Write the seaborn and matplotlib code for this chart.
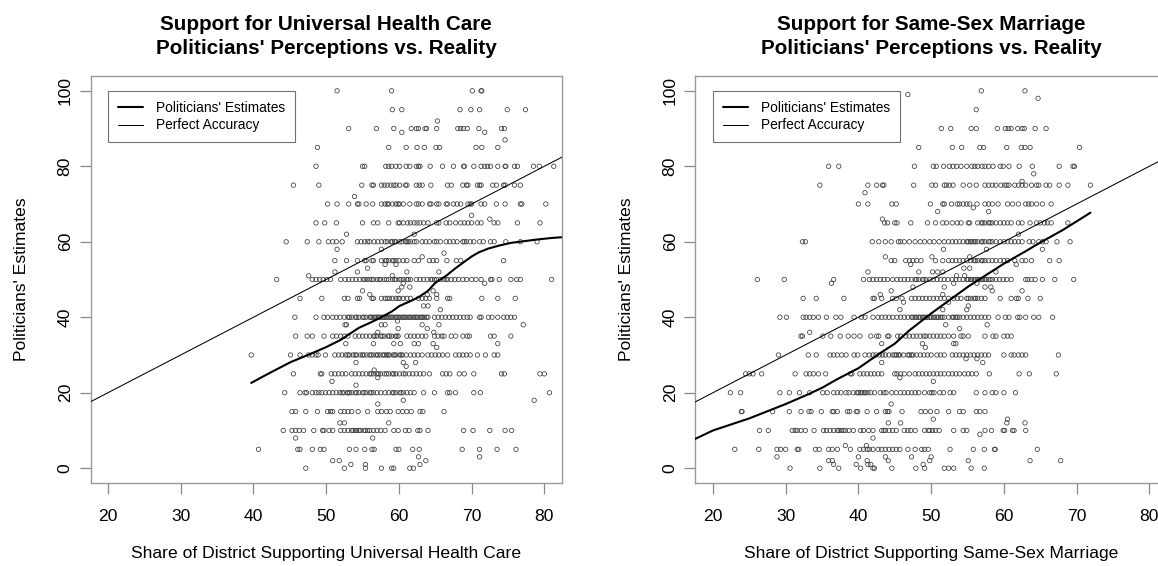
import matplotlib
matplotlib.use("Agg")
import matplotlib.pyplot as plt
import pandas as pd
import seaborn as sns
from matplotlib.lines import Line2D

# ---------------- data ----------------
TITLES = ["Support for Universal Health Care", "Support for Same-Sex Marriage"]
SUBTITLE = "Politicians' Perceptions vs. Reality"
XLABELS = ["Share of District Supporting Universal Health Care",
           "Share of District Supporting Same-Sex Marriage"]
YLABEL = "Politicians' Estimates"
LEGEND_LABELS = ["Politicians' Estimates", "Perfect Accuracy"]
XTICKS = [20, 30, 40, 50, 60, 70, 80]
YTICKS = [0, 20, 40, 60, 80, 100]
XLIM = (17.6, 82.4)
YLIM = (-4, 104)
IDENTITY = [0, 100]

# Universal health care: politicians' estimate levels and district support at each level
HC_LEVELS = [100, 95, 92, 90, 89, 87, 85, 80, 75, 72, 70, 67, 66, 65, 62, 60, 58, 57, 56, 55,
             54, 53, 52, 51, 50, 49, 48, 47, 46, 45, 43, 42, 40, 39, 38, 37, 36, 35, 33, 32,
             30, 28, 27, 26, 25, 24, 23, 22, 20, 18, 17, 15, 12, 10, 8, 5, 3, 2, 1, 0]
HC_X = [
    [51.5, 59.0, 70.1, 71.3, 71.4],
    [59.1, 60.4, 68.4, 69.9, 71.1, 74.9, 77.4],
    [65.3],
    [53.1, 56.9, 59.3, 61.7, 62.4, 62.7, 63.6, 63.8, 65.2, 68.1, 68.5, 68.9, 69.4, 71.0, 74.1, 74.5],
    [60.4, 71.8],
    [74.6],
    [48.8, 58.6, 61.0, 62.5, 63.5, 65.1, 65.6, 70.6, 71.4, 73.6],
    [48.6, 55.0, 55.3, 58.2, 58.6, 59.0, 59.6, 60.1, 61.0, 61.5, 62.4, 62.7, 62.9, 64.3, 66.0,
     67.5, 68.9, 69.0, 70.3, 71.3, 71.8, 72.2, 72.6, 73.6, 74.6, 74.7, 75.9, 76.3, 78.5, 79.3, 81.3],
    [45.5, 49.0, 54.9, 56.3, 56.5, 57.6, 58.0, 58.4, 58.9, 59.3, 59.6, 60.1, 60.9, 61.1, 62.4,
     62.8, 63.2, 64.4, 66.7, 67.2, 68.8, 69.3, 69.5, 70.8, 71.1, 71.3, 72.9, 73.4, 74.4, 74.6,
     75.9, 76.7],
    [53.9],
    [50.2, 51.5, 53.1, 54.3, 54.5, 55.5, 56.4, 57.6, 58.1, 58.6, 59.1, 59.6, 60.1, 60.6, 61.5,
     62.4, 62.7, 63.2, 64.2, 64.4, 65.2, 65.5, 66.5, 66.7, 67.5, 68.0, 68.5, 69.5, 69.8, 70.0,
     71.3, 71.8, 73.4, 74.6, 76.7, 76.9, 80.2, 58.4, 59.9],
    [70.0],
    [72.5],
    [48.6, 49.8, 51.4, 55.0, 56.5, 57.1, 58.6, 59.9, 60.1, 60.6, 61.6, 62.1, 62.5, 62.9, 64.0,
     65.2, 65.5, 66.5, 67.0, 67.8, 68.5, 69.0, 69.5, 70.0, 70.8, 71.3, 73.1, 73.6, 76.3, 79.4,
     61.2, 63.4],
    [52.8, 62.1],
    [44.5, 47.4, 49.0, 50.3, 50.9, 51.4, 52.2, 54.3, 54.8, 55.3, 56.0, 56.6, 57.1, 57.6, 58.1,
     58.9, 59.1, 59.6, 60.1, 60.9, 61.1, 61.6, 62.1, 63.2, 63.7, 64.2, 64.9, 65.2, 65.7, 66.5,
     67.0, 67.5, 68.0, 68.8, 69.3, 69.8, 70.3, 71.1, 71.6, 72.6, 73.1, 74.7, 76.7, 79.0,
     59.4, 60.4, 61.3, 62.4, 69.0, 55.7, 58.4],
    [51.5, 57.6],
    [66.2],
    [63.2],
    [51.2, 52.8, 54.3, 55.3, 55.5, 56.3, 56.5, 57.6, 58.1, 58.6, 59.1, 59.6, 60.0, 60.6, 61.1,
     62.1, 62.7, 64.2, 64.7, 65.2, 66.6, 67.9, 68.5, 74.4, 58.3, 59.3],
    [58.1, 59.6],
    [55.7],
    [51.2, 54.3, 61.1, 65.5],
    [47.6, 59.1],
    [43.2, 48.1, 48.6, 49.1, 49.6, 50.1, 50.6, 52.0, 52.6, 53.1, 53.6, 54.1, 54.6, 55.1, 55.6,
     56.0, 56.5, 57.0, 57.5, 58.0, 58.6, 59.1, 59.6, 60.1, 60.6, 61.1, 61.6, 62.4, 62.9, 63.4,
     63.9, 64.4, 64.9, 65.2, 65.7, 66.2, 66.7, 67.2, 67.7, 68.2, 68.8, 69.3, 70.0, 70.6, 71.3,
     72.6, 72.8, 73.8, 75.4, 76.2, 76.7, 81.0, 55.3, 56.3, 57.3, 58.3, 59.4, 60.3, 61.3,
     64.6, 66.5],
    [60.6, 71.8],
    [60.4, 61.5],
    [55.0, 59.9, 64.7],
    [56.0, 63.9, 65.2],
    [46.4, 49.4, 52.5, 53.0, 54.3, 54.6, 56.3, 56.5, 57.6, 58.1, 58.7, 59.1, 59.6, 59.9, 60.6,
     61.1, 61.6, 62.7, 63.2, 63.7, 64.2, 65.2, 66.7, 67.0, 71.4, 73.6, 76.0, 58.4, 60.1],
    [63.4, 64.0],
    [65.7],
    [45.7, 48.6, 49.7, 50.2, 50.9, 51.4, 51.9, 52.5, 53.0, 53.5, 54.0, 54.5, 55.0, 55.5, 56.0,
     56.3, 56.8, 57.2, 57.7, 58.1, 58.6, 59.0, 59.5, 59.9, 60.4, 60.8, 61.3, 61.7, 62.2, 62.6,
     63.1, 63.5, 64.0, 64.9, 65.4, 65.9, 66.4, 66.9, 67.4, 67.9, 68.4, 68.9, 69.4, 69.8, 71.1,
     71.3, 72.3, 72.8, 73.6, 74.4, 74.9, 75.4, 75.9, 56.1, 56.6, 57.0, 57.4, 57.9, 58.3, 58.8,
     59.2, 59.7, 60.1, 60.6, 61.0, 61.5, 62.0, 62.4, 62.9, 63.3, 63.8, 53.2, 54.2, 55.2],
    [59.8],
    [52.6, 52.8, 57.6, 58.1, 63.2, 65.5, 77.1],
    [59.9, 63.9],
    [57.1, 64.8],
    [45.8, 47.4, 48.1, 49.7, 50.9, 51.4, 52.0, 52.5, 53.0, 54.0, 54.5, 55.0, 55.5, 56.0, 56.5,
     57.0, 57.5, 58.0, 58.5, 59.0, 59.5, 59.9, 61.1, 61.6, 62.1, 62.6, 63.2, 63.7, 64.9, 65.4,
     65.9, 66.2, 67.2, 67.8, 68.8, 69.4, 69.7, 72.6, 73.1, 75.4, 56.7, 57.7, 58.7, 59.7],
    [52.7, 56.5, 59.3, 60.2, 62.1, 62.7, 64.7, 73.6],
    [65.2],
    [39.7, 45.1, 46.4, 47.6, 48.1, 48.6, 48.9, 49.9, 51.2, 51.7, 52.2, 52.7, 53.2, 53.7, 54.2,
     54.7, 55.2, 55.6, 56.0, 56.5, 56.9, 57.4, 57.8, 58.3, 58.7, 59.2, 59.6, 60.1, 60.5, 61.0,
     61.6, 62.1, 62.6, 63.2, 64.0, 64.5, 65.0, 65.5, 66.0, 66.7, 67.8, 68.3, 68.8, 69.3, 69.8,
     70.8, 71.9, 73.1, 73.6, 53.0, 54.0, 55.0, 56.2, 57.1, 58.0, 58.5, 59.4, 60.3],
    [54.1, 60.6, 62.3],
    [61.0],
    [56.6],
    [45.5, 49.2, 49.4, 50.7, 51.2, 51.7, 52.2, 52.7, 53.5, 54.0, 54.5, 55.0, 55.5, 56.0, 56.5,
     57.0, 57.5, 58.0, 58.6, 59.1, 59.6, 60.1, 60.6, 60.9, 61.4, 61.9, 62.4, 62.9, 63.4, 64.2,
     66.0, 66.5, 67.0, 68.3, 69.0, 70.3, 74.1, 74.5, 79.4, 80.0, 56.2, 57.2, 58.3, 59.3],
    [57.1],
    [50.8],
    [54.1],
    [44.3, 46.4, 47.1, 47.3, 48.1, 48.6, 49.0, 49.4, 49.9, 50.4, 50.9, 51.4, 51.9, 52.4, 52.9,
     53.0, 53.5, 54.0, 54.5, 55.0, 55.5, 56.0, 56.5, 57.0, 57.5, 58.1, 58.6, 59.1, 59.6, 60.1,
     60.6, 61.1, 61.6, 62.1, 63.4, 64.9, 66.7, 67.0, 67.8, 70.3, 71.2, 80.7, 52.2, 53.2, 54.2,
     55.2, 56.2, 59.3, 60.3],
    [60.6, 78.6],
    [57.1],
    [45.3, 45.8, 47.2, 48.8, 50.2, 50.6, 50.9, 52.0, 52.5, 53.0, 53.5, 54.4, 55.7, 57.1, 57.6,
     58.3, 58.8, 59.9, 60.5, 61.1, 61.7, 62.9, 63.3, 66.2],
    [51.9, 52.5, 58.6],
    [44.1, 45.3, 45.8, 46.3, 46.9, 48.3, 49.5, 49.7, 50.4, 50.9, 52.0, 52.5, 53.0, 53.5, 53.7,
     54.2, 54.7, 55.2, 55.7, 56.0, 56.5, 57.0, 57.5, 58.1, 59.3, 59.9, 60.9, 61.4, 62.6, 62.9,
     64.0, 68.9, 70.2, 72.5, 74.6, 75.5, 54.0, 54.5, 55.4],
    [45.8, 56.4],
    [40.7, 46.1, 46.4, 48.1, 49.2, 49.7, 53.2, 54.1, 55.3, 56.3, 56.6, 59.6, 60.0, 61.9, 62.8,
     68.7, 71.1, 73.5, 76.1],
    [62.7, 71.1],
    [50.9, 51.8, 63.7],
    [53.4, 55.4, 62.9],
    [47.2, 52.5, 55.4, 57.6, 59.0, 59.3, 61.5, 62.0],
]
HC_FIT_X = [39.7, 42.0, 45.1, 47.5, 49.9, 52.0, 54.5, 56.0, 57.6, 59.0, 60.1, 61.5, 62.7, 64.0,
            65.0, 66.5, 67.8, 69.0, 70.0, 71.0, 72.3, 73.8, 75.4, 77.0, 79.0, 81.0, 82.4]
HC_FIT_Y = [22.6, 25.0, 28.1, 30.0, 32.0, 34.0, 37.2, 38.5, 40.0, 41.5, 43.0, 44.2, 45.3, 47.0,
            49.1, 51.0, 53.0, 54.7, 56.1, 57.2, 58.2, 59.0, 59.7, 60.1, 60.6, 61.0, 61.2]

# Same-sex marriage
SSM_LEVELS = [100, 99, 98, 95, 90, 85, 80, 78, 76, 75, 73, 70, 69, 68, 66, 65, 62, 60, 58, 56,
              55, 54, 53, 52, 51, 50, 49, 48, 47, 46, 45, 44, 43, 42, 40, 38, 37, 36, 35, 33,
              32, 30, 29, 28, 25, 24, 23, 20, 17, 15, 13, 12, 10, 9, 8, 6, 5, 3, 2, 1, 0]
SSM_X = [
    [56.9, 62.9],
    [46.8],
    [64.7],
    [56.2],
    [51.4, 52.7, 55.5, 56.2, 59.1, 60.2, 60.6, 61.0, 61.9, 62.5, 62.8, 64.3, 65.8],
    [48.3, 52.9, 54.2, 56.7, 57.2, 60.4, 62.4, 62.9, 63.6, 70.4],
    [35.9, 37.3, 47.7, 50.3, 50.7, 51.7, 52.5, 53.0, 53.5, 54.1, 54.9, 55.6, 56.0, 56.4, 57.0,
     57.4, 57.9, 58.5, 59.5, 59.9, 60.7, 62.1, 63.9, 67.6, 69.5, 69.7],
    [64.1],
    [62.5],
    [34.7, 41.3, 42.5, 43.3, 43.5, 47.6, 50.1, 50.6, 51.8, 52.1, 52.5, 53.0, 54.4, 55.3, 56.2,
     57.4, 57.9, 58.4, 58.9, 59.6, 60.1, 60.4, 60.7, 61.5, 62.0, 62.5, 63.0, 63.8, 64.5, 64.8,
     65.8, 66.3, 67.6, 68.8, 71.9],
    [40.9],
    [40.0, 41.3, 44.6, 45.2, 49.9, 51.6, 51.8, 52.8, 53.6, 53.9, 54.4, 54.9, 55.3, 56.3, 57.4,
     57.9, 58.4, 59.2, 60.5, 61.2, 62.0, 63.0, 63.4, 63.8, 64.5, 65.3, 66.5],
    [55.8],
    [50.9, 57.9],
    [43.3],
    [43.6, 44.0, 45.0, 45.3, 47.2, 49.5, 50.6, 51.6, 52.1, 52.9, 53.6, 54.1, 55.1, 55.3, 56.4,
     56.9, 57.4, 57.9, 58.4, 58.9, 59.5, 60.0, 60.5, 61.0, 62.0, 62.5, 63.6, 64.5, 65.0, 65.6,
     66.0, 66.5, 68.8, 57.1, 58.1],
    [62.0],
    [32.3, 32.7, 41.9, 42.8, 43.7, 44.5, 45.5, 45.8, 46.3, 47.0, 47.8, 48.5, 49.1, 49.8, 50.4,
     51.1, 51.8, 52.4, 52.9, 53.4, 53.9, 54.4, 54.9, 55.4, 55.9, 56.4, 56.9, 57.4, 57.9, 58.4,
     58.9, 59.5, 60.0, 60.5, 61.0, 61.5, 62.0, 62.5, 63.5, 64.0, 64.8, 65.3, 65.8, 67.3, 69.1,
     55.1, 55.6, 56.1, 57.1, 58.1],
    [51.7, 57.6, 65.3],
    [43.7, 50.1, 55.3],
    [44.5, 45.0, 46.5, 47.0, 47.5, 48.0, 48.6, 50.6, 51.6, 52.4, 52.9, 53.4, 53.9, 54.4, 54.9,
     55.4, 55.9, 56.4, 56.9, 57.4, 57.9, 58.4, 58.9, 59.5, 60.0, 60.5, 61.5, 62.5, 63.0, 63.8,
     66.3, 67.6, 56.1, 57.1],
    [47.2, 61.7],
    [54.5, 55.3],
    [41.3, 48.3, 50.2, 50.9, 51.6, 58.9],
    [53.5, 54.6],
    [26.1, 29.8, 36.6, 40.7, 41.5, 42.0, 42.5, 43.0, 43.5, 44.0, 44.7, 45.3, 45.8, 46.3, 46.8,
     47.3, 47.8, 48.3, 48.8, 49.3, 49.8, 50.3, 50.8, 51.3, 51.8, 52.3, 52.9, 53.4, 53.9, 54.4,
     54.9, 55.4, 55.9, 56.4, 56.9, 57.4, 57.9, 58.4, 58.9, 59.4, 59.9, 60.4, 61.0, 63.0, 63.3,
     63.8, 64.3, 65.3, 67.0, 69.6, 55.1, 55.6, 56.1, 56.6, 57.1, 57.6, 58.1, 48.0, 49.0],
    [36.3, 53.1, 56.3],
    [47.5, 51.8, 57.4, 58.2],
    [44.5, 58.4, 62.5],
    [43.0, 51.6],
    [32.4, 34.2, 38.0, 42.0, 42.2, 43.2, 44.7, 45.2, 46.0, 47.3, 47.8, 48.3, 48.8, 49.3, 49.8,
     50.3, 50.8, 51.3, 51.8, 52.4, 53.1, 53.6, 54.1, 54.9, 55.4, 55.9, 56.4, 56.9, 57.4, 59.5,
     61.0, 61.7, 62.0, 63.3, 65.0, 55.1, 56.1],
    [46.2, 52.4],
    [55.1],
    [45.7, 51.6, 54.9],
    [29.2, 30.1, 32.4, 32.8, 33.3, 33.8, 34.5, 35.6, 36.9, 37.6, 39.4, 40.4, 40.9, 42.0, 42.7,
     43.2, 43.7, 44.2, 44.7, 45.3, 45.8, 46.3, 46.8, 47.3, 47.8, 48.3, 48.8, 49.3, 49.8, 50.3,
     50.8, 51.3, 51.8, 52.4, 52.9, 53.4, 53.9, 54.4, 54.9, 55.4, 55.9, 56.4, 56.9, 57.4, 57.9,
     59.2, 60.2, 60.7, 61.9, 62.2, 63.0, 64.1, 64.8, 66.7, 47.5, 48.0, 48.5, 49.0, 49.5, 50.0,
     50.5, 51.0, 51.5, 53.1, 53.6],
    [52.0, 57.7],
    [53.9],
    [33.3],
    [32.1, 32.3, 35.1, 36.2, 37.5, 38.6, 39.4, 40.2, 41.7, 42.5, 42.8, 44.0, 44.2, 45.4, 45.8,
     46.5, 47.0, 47.5, 48.0, 48.5, 49.0, 49.3, 49.8, 50.3, 50.8, 51.3, 51.8, 52.4, 53.1, 54.1,
     54.4, 55.1, 57.4, 58.5, 58.9, 60.0, 60.5, 61.0],
    [43.2, 48.8, 53.1, 53.4],
    [49.2],
    [29.0, 33.1, 34.2, 36.1, 36.6, 37.1, 37.7, 38.3, 39.4, 39.9, 40.9, 41.5, 42.0, 42.4, 42.9,
     43.3, 43.7, 44.2, 44.7, 45.2, 45.7, 46.2, 46.8, 47.3, 47.5, 48.0, 48.5, 49.0, 49.5, 50.0,
     50.8, 51.3, 51.8, 52.9, 53.4, 53.9, 54.4, 54.9, 55.4, 55.9, 56.4, 56.9, 57.4, 57.9, 60.0,
     61.0, 61.4, 62.0, 62.5, 63.0, 67.5, 45.0, 45.5, 47.0],
    [54.8, 56.3],
    [43.2, 57.1],
    [24.5, 25.0, 25.5, 26.7, 31.3, 32.8, 33.3, 33.8, 34.5, 35.5, 38.9, 39.1, 40.2, 40.7, 41.2,
     41.7, 42.2, 42.7, 43.2, 45.0, 45.3, 45.8, 46.3, 47.0, 47.8, 48.3, 48.8, 49.3, 49.8, 50.3,
     50.8, 51.3, 51.8, 52.4, 52.9, 53.4, 53.9, 54.6, 55.1, 55.6, 56.2, 58.0, 62.1, 63.5, 67.2],
    [45.7],
    [50.3],
    [22.4, 23.8, 29.2, 30.5, 31.9, 33.3, 35.1, 35.7, 36.6, 37.1, 37.6, 38.3, 38.7, 39.3, 39.8,
     40.3, 40.8, 41.3, 41.7, 42.2, 43.0, 43.5, 43.8, 44.6, 45.2, 45.8, 46.3, 46.8, 47.3, 47.8,
     48.3, 49.1, 49.8, 50.1, 50.4, 51.2, 51.7, 52.6, 53.1, 56.2, 57.4, 58.4, 58.9, 60.0, 61.6,
     40.0, 40.5, 41.0],
    [44.5],
    [23.9, 24.0, 28.2, 30.5, 32.1, 33.2, 33.5, 34.9, 36.4, 36.6, 37.1, 38.5, 38.8, 39.7, 39.9,
     41.2, 42.5, 43.7, 44.0, 44.2, 46.0, 48.6, 49.2, 49.9, 50.8, 52.4, 53.9, 54.4, 56.2, 56.7,
     57.4],
    [50.3, 60.5],
    [44.1, 45.8, 60.4, 62.9],
    [26.4, 27.6, 30.9, 31.3, 31.6, 32.1, 32.7, 33.9, 35.2, 35.6, 36.1, 36.6, 37.1, 37.6, 38.2,
     38.7, 39.3, 40.3, 40.7, 41.4, 42.0, 43.2, 43.5, 43.7, 44.2, 44.7, 45.2, 46.3, 46.8, 47.2,
     47.8, 49.1, 49.6, 49.8, 50.2, 50.6, 51.1, 53.1, 54.4, 54.9, 57.4, 58.3, 59.9, 60.1, 61.2,
     61.4, 63.0, 37.3, 37.9],
    [56.7],
    [42.0],
    [38.2, 41.1],
    [23.0, 26.3, 28.8, 29.3, 30.0, 31.6, 31.8, 34.1, 34.6, 35.9, 36.4, 37.1, 38.9, 40.2, 40.7,
     41.2, 41.5, 42.0, 42.7, 43.2, 43.7, 44.2, 44.7, 45.2, 45.7, 46.8, 47.8, 48.7, 49.1, 49.6,
     52.6, 55.8, 57.3, 58.7, 58.8, 64.6],
    [28.8, 40.0, 43.7, 47.3, 50.0],
    [35.9, 36.4, 41.2, 44.1, 49.8, 55.1, 63.6, 67.8],
    [36.6, 39.7, 41.3, 41.7, 48.9],
    [30.6, 34.7, 37.3, 40.3, 42.0, 42.2, 44.6, 47.9, 49.1, 51.8, 52.4, 53.1, 55.5, 57.3],
]
SSM_FIT_X = [17.6, 20.0, 25.0, 30.0, 33.0, 35.0, 37.0, 40.0, 43.0, 45.0, 47.0, 50.0, 53.0,
             55.0, 57.0, 60.0, 63.0, 65.0, 68.0, 70.0, 71.9]
SSM_FIT_Y = [7.8, 10.0, 13.2, 17.0, 19.5, 21.3, 23.5, 26.5, 30.5, 33.0, 36.5, 41.0, 45.2,
             48.0, 50.5, 54.2, 57.5, 59.8, 63.0, 65.4, 67.7]


def to_frame(levels, rows):
    xs, ys = [], []
    for lev, row in zip(levels, rows):
        xs.extend(row)
        ys.extend([lev] * len(row))
    return pd.DataFrame({"support": xs, "estimate": ys})


# ---------------- figure ----------------
sns.set_theme(style="white")
plt.rcParams["font.family"] = ["Liberation Sans", "DejaVu Sans"]
plt.rcParams["text.color"] = "black"
plt.rcParams["axes.labelcolor"] = "black"

W, H = 1158, 566
fig = plt.figure(figsize=(W / 100, H / 100), dpi=100)


def add_axes_px(left, top, width, height):
    return fig.add_axes([left / W, 1 - (top + height) / H, width / W, height / H])


AX_W, AX_H, AX_TOP = 471.3, 407.6, 75.7
panels = [
    (90.5, to_frame(HC_LEVELS, HC_X), HC_FIT_X, HC_FIT_Y, TITLES[0], XLABELS[0]),
    (695.5, to_frame(SSM_LEVELS, SSM_X), SSM_FIT_X, SSM_FIT_Y, TITLES[1], XLABELS[1]),
]

for left, df, fx, fy, title, xlabel in panels:
    ax = add_axes_px(left, AX_TOP, AX_W, AX_H)
    sns.scatterplot(data=df, x="support", y="estimate", ax=ax, marker="o", s=10,
                    facecolor="none", edgecolor="#3c3c3c", linewidth=0.55, legend=False,
                    zorder=2)
    sns.lineplot(x=IDENTITY, y=IDENTITY, ax=ax, color="black", linewidth=0.75,
                 sort=False, estimator=None, zorder=3)
    sns.lineplot(x=fx, y=fy, ax=ax, color="black", linewidth=1.5,
                 sort=False, estimator=None, zorder=4)

    ax.set_xlim(*XLIM)
    ax.set_ylim(*YLIM)
    ax.set_xticks(XTICKS)
    ax.set_yticks(YTICKS)
    ax.set_xlabel("")
    ax.set_ylabel("")
    for sp in ax.spines.values():
        sp.set_color("#9a9a9a")
        sp.set_linewidth(1.0)
    ax.tick_params(axis="both", which="major", direction="out", length=7.8, width=0.9,
                   color="#8a8a8a", labelsize=12.6, labelcolor="black",
                   bottom=True, left=True)
    ax.tick_params(axis="x", pad=11.0)
    ax.tick_params(axis="y", pad=5.0)
    for lab in ax.get_yticklabels():
        lab.set_rotation(90)
        lab.set_va("center")

    handles = [Line2D([], [], color="black", lw=1.5), Line2D([], [], color="black", lw=0.75)]
    leg = ax.legend(handles, LEGEND_LABELS, loc="upper left",
                    bbox_to_anchor=(17.8 / AX_W, 1 - 15.3 / AX_H), borderaxespad=0,
                    frameon=True, fancybox=False, framealpha=1, edgecolor="#707070",
                    fontsize=9.9, handlelength=1.82, handletextpad=0.95, borderpad=0.7,
                    labelspacing=0.28)
    leg.get_frame().set_linewidth(0.8)

    cx = (left + AX_W / 2) / W
    fig.text(cx, 1 - 29.6 / H, title, ha="center", va="baseline", fontsize=14.9,
             fontweight="bold")
    fig.text(cx, 1 - 54.1 / H, SUBTITLE, ha="center", va="baseline", fontsize=14.9,
             fontweight="bold")
    fig.text(cx, 1 - 558 / H, xlabel, ha="center", va="baseline", fontsize=12.6)
    fig.text((left - 64.6) / W, 1 - (AX_TOP + AX_H / 2) / H, YLABEL, rotation=90,
             rotation_mode="anchor", ha="center", va="baseline", fontsize=12.6)

fig.savefig("out.png", dpi=100)
